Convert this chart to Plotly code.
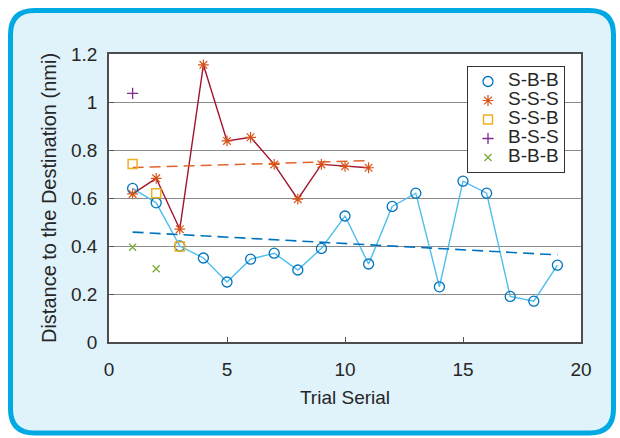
import plotly.graph_objects as go

# ---------------- data ----------------
trial_sbb = list(range(1, 20))
dist_sbb = [0.64, 0.58, 0.40, 0.35, 0.25, 0.345, 0.37, 0.30, 0.39, 0.525,
            0.325, 0.565, 0.62, 0.23, 0.67, 0.62, 0.19, 0.17, 0.32]
trend_sbb_x = [1, 19]
trend_sbb_y = [0.458, 0.363]

trial_sss = list(range(1, 12))
dist_sss = [0.617, 0.682, 0.47, 1.155, 0.838, 0.853, 0.74, 0.595, 0.74, 0.732, 0.726]
trend_sss_x = [1, 11]
trend_sss_y = [0.727, 0.756]

trial_ssb = [1, 2, 3]
dist_ssb = [0.742, 0.62, 0.398]

trial_bss = [1]
dist_bss = [1.036]

trial_bbb = [1, 2]
dist_bbb = [0.395, 0.305]

x_ticks = [0, 5, 10, 15, 20]
y_ticks = [0, 0.2, 0.4, 0.6, 0.8, 1.0, 1.2]
y_ticklabels = ["0", "0.2", "0.4", "0.6", "0.8", "1", "1.2"]

# ---------------- layout geometry (pixels) ----------------
W_FIG, H_FIG = 620, 438
L, R, T, B = 109, 581, 54, 342
PW, PH = R - L, B - T


def px(x):
    return (x - L) / PW


def py(y):
    return (B - y) / PH


FONT = "Liberation Sans, Arial, Helvetica, sans-serif"
TXT = "#262626"
FS = 19

fig = go.Figure()

# lines
fig.add_trace(go.Scatter(x=trial_sbb, y=dist_sbb, mode="lines",
                         line=dict(color="#4DBEEE", width=1.4),
                         showlegend=False, hoverinfo="skip"))
fig.add_trace(go.Scatter(x=trend_sbb_x, y=trend_sbb_y, mode="lines",
                         line=dict(color="#0072BD", width=1.6, dash="11px,6px"),
                         showlegend=False, hoverinfo="skip"))
fig.add_trace(go.Scatter(x=trial_sss, y=dist_sss, mode="lines",
                         line=dict(color="#A2142F", width=1.4),
                         showlegend=False, hoverinfo="skip"))
fig.add_trace(go.Scatter(x=trend_sss_x, y=trend_sss_y, mode="lines",
                         line=dict(color="#E0652C", width=1.6, dash="11px,6px"),
                         showlegend=False, hoverinfo="skip"))


def lbl(s):
    return f'<span style="font-size:{FS}px">' + s + "</span>"


# markers (legend entries)
fig.add_trace(go.Scatter(x=trial_sbb, y=dist_sbb, mode="markers", name=lbl("S-B-B"),
                         marker=dict(symbol="circle-open", size=10, color="#0072BD",
                                     line=dict(width=1.3, color="#0072BD"))))
fig.add_trace(go.Scatter(x=trial_sss, y=dist_sss, mode="markers", name=lbl("S-S-S"),
                         marker=dict(symbol="asterisk-open", size=9, color="#D95319",
                                     line=dict(width=1.2, color="#D95319"))))
fig.add_trace(go.Scatter(x=trial_ssb, y=dist_ssb, mode="markers", name=lbl("S-S-B"),
                         marker=dict(symbol="square-open", size=9, color="#EDB120",
                                     line=dict(width=1.5, color="#EDB120"))))
fig.add_trace(go.Scatter(x=trial_bss, y=dist_bss, mode="markers", name=lbl("B-S-S"),
                         marker=dict(symbol="cross-thin-open", size=8, color="#7E2F8E",
                                     line=dict(width=1.3, color="#7E2F8E"))))
fig.add_trace(go.Scatter(x=trial_bbb, y=dist_bbb, mode="markers", name=lbl("B-B-B"),
                         marker=dict(symbol="x-thin-open", size=7, color="#77AC30",
                                     line=dict(width=1.3, color="#77AC30"))))

# rounded background panel
x0, x1, y0, y1, r = 10.5, 613.5, 10.5, 433.0, 24


def P(a, b):
    return f"{px(a):.5f},{py(b):.5f}"


path = (f"M {P(x0 + r, y0)} L {P(x1 - r, y0)} Q {P(x1, y0)} {P(x1, y0 + r)} "
        f"L {P(x1, y1 - r)} Q {P(x1, y1)} {P(x1 - r, y1)} "
        f"L {P(x0 + r, y1)} Q {P(x0, y1)} {P(x0, y1 - r)} "
        f"L {P(x0, y0 + r)} Q {P(x0, y0)} {P(x0 + r, y0)} Z")

shapes = [
    dict(type="path", xref="paper", yref="paper", path=path,
         fillcolor="#E0F3FA", line=dict(color="#00A9E4", width=5), layer="below"),
    dict(type="rect", xref="paper", yref="paper", x0=0, x1=1, y0=0, y1=1,
         fillcolor="white", line=dict(width=0), layer="below"),
]

fig.update_layout(
    width=W_FIG, height=H_FIG,
    margin=dict(l=L, r=W_FIG - R, t=T, b=H_FIG - B, autoexpand=False),
    paper_bgcolor="white", plot_bgcolor="rgba(0,0,0,0)",
    font=dict(family=FONT, size=FS, color=TXT),
    shapes=shapes,
    showlegend=True,
    legend=dict(x=px(467), y=py(66), xanchor="left", yanchor="top",
                bgcolor="white", bordercolor="#333333", borderwidth=1,
                font=dict(size=12, family=FONT, color=TXT),
                itemwidth=30, tracegroupgap=0),
    xaxis=dict(range=[0, 20], tickvals=x_ticks, ticks="inside", ticklen=5,
               tickcolor="#555555", showgrid=False, zeroline=False,
               showline=True, linecolor="#4d4d4d", linewidth=1.5, mirror=True,
               tickfont=dict(size=FS, color=TXT), ticklabelstandoff=9,
               title=dict(text="Trial Serial", font=dict(size=FS, color=TXT), standoff=12)),
    yaxis=dict(range=[0, 1.2], tickvals=y_ticks, ticktext=y_ticklabels,
               ticks="inside", ticklen=5, tickcolor="#555555",
               showgrid=True, gridcolor="#8c8c8c", gridwidth=1.2, zeroline=False,
               showline=True, linecolor="#4d4d4d", linewidth=1.5, mirror=True,
               tickfont=dict(size=FS, color=TXT), ticklabelstandoff=6,
               title=dict(text="Distance to the Destination (nmi)",
                          font=dict(size=20, color=TXT), standoff=9)),
)

fig.write_html("out.html")
